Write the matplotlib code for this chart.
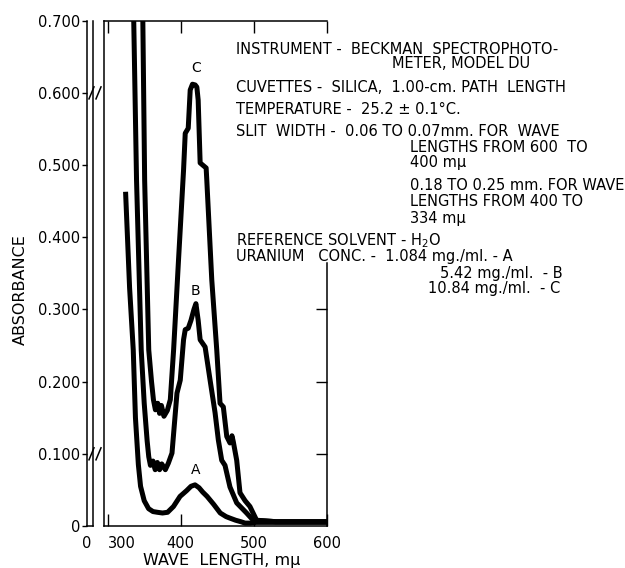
import matplotlib
matplotlib.use("Agg")
import matplotlib.pyplot as plt
from matplotlib.lines import Line2D

# wave length (m-mu) and absorbance
a_x = [324.5, 330, 335, 338, 342, 345, 350, 356, 362, 368, 375, 382, 390, 399, 408,
       414, 419.5, 425, 430, 436, 445, 454, 462, 467, 475, 482, 488, 495, 503, 530, 600]
a_y = [0.463, 0.330, 0.244, 0.150, 0.085, 0.055, 0.035, 0.024, 0.020, 0.019, 0.018, 0.019,
       0.027, 0.041, 0.049, 0.055, 0.057, 0.053, 0.047, 0.041, 0.030, 0.018, 0.013, 0.011,
       0.008, 0.006, 0.004, 0.004, 0.005, 0.005, 0.005]

b_x = [335.5, 339.5, 345.9, 350, 354, 356.2, 358.5, 362, 365, 368, 371, 374, 378.9, 383,
       388, 394.8, 399.3, 403.8, 406.1, 410.2, 414, 418, 420.7, 423.8, 426.5, 433.3, 440.1,
       446.9, 451.4, 456, 460.5, 467.3, 476.5, 490, 499, 530, 600]
b_y = [0.710, 0.479, 0.244, 0.170, 0.118, 0.096, 0.084, 0.090, 0.078, 0.088, 0.078, 0.086,
       0.078, 0.087, 0.101, 0.184, 0.202, 0.258, 0.272, 0.274, 0.285, 0.300, 0.308, 0.285,
       0.258, 0.248, 0.202, 0.157, 0.119, 0.091, 0.084, 0.054, 0.032, 0.018, 0.008, 0.006,
       0.006]

c_x = [348.0, 350.6, 356.2, 360, 362.6, 365.3, 368.5, 371, 373.5, 377, 381.6, 385.7, 390.2,
       397, 403.8, 406.1, 410.2, 412.9, 416, 419.7, 422, 423.8, 426.5, 430, 434.7, 435.6,
       442.4, 449.2, 453.7, 458.2, 462.9, 467.3, 470, 471.8, 476.5, 481, 488, 494.6, 503.7,
       530, 600]
c_y = [0.710, 0.479, 0.244, 0.200, 0.175, 0.161, 0.170, 0.156, 0.167, 0.152, 0.160, 0.175,
       0.244, 0.370, 0.493, 0.544, 0.551, 0.604, 0.612, 0.611, 0.608, 0.590, 0.503, 0.500,
       0.496, 0.479, 0.341, 0.244, 0.170, 0.165, 0.124, 0.115, 0.125, 0.117, 0.091, 0.046,
       0.035, 0.027, 0.008, 0.006, 0.006]

labels = ["A", "B", "C"]
label_x = [420, 420, 421]
label_y = [0.078, 0.325, 0.635]

y_ticks = [0, 0.1, 0.2, 0.3, 0.4, 0.5, 0.6, 0.7]
y_ticklabels = ["0", "0.100", "0.200", "0.300", "0.400", "0.500", "0.600", "0.700"]
right_ticks = [0.1, 0.2, 0.3]
x_ticks = [300, 400, 500, 600]

notes = [
    (236, 49, "INSTRUMENT -  BECKMAN  SPECTROPHOTO-"),
    (392, 64, "METER, MODEL DU"),
    (236, 87, "CUVETTES -  SILICA,  1.00-cm. PATH  LENGTH"),
    (236, 109, "TEMPERATURE -  25.2 \u00b1 0.1\u00b0C."),
    (236, 131, "SLIT  WIDTH -  0.06 TO 0.07mm. FOR  WAVE"),
    (410, 147, "LENGTHS FROM 600  TO"),
    (410, 163, "400 m\u03bc"),
    (410, 185, "0.18 TO 0.25 mm. FOR WAVE"),
    (410, 201, "LENGTHS FROM 400 TO"),
    (410, 218, "334 m\u03bc"),
    (236, 241, "REFERENCE SOLVENT - H$_2$O"),
    (236, 257, "URANIUM   CONC. -  1.084 mg./ml. - A"),
    (440, 273, "5.42 mg./ml.  - B"),
    (428, 289, "10.84 mg./ml.  - C"),
]

W, H = 625, 568
plt.rcParams['font.family'] = ['DejaVu Sans']
fig = plt.figure(figsize=(W / 100, H / 100), dpi=100)

def fx(x):
    return x / W

def fy(y):
    return 1 - y / H

top, bot = 20.7, 526
axL = fig.add_axes([fx(87), fy(bot), 6.5 / W, (bot - top) / H])
axM = fig.add_axes([fx(104), fy(bot), (327 - 104) / W, (bot - top) / H])

# narrow panel holding the zero of the wave length axis
axL.set_xlim(0, 1)
axL.set_ylim(0, 0.7)
axL.set_yticks(y_ticks)
axL.set_yticklabels(y_ticklabels)
axL.set_xticks([0])
axL.set_xticklabels(["0"])
axL.tick_params(axis='y', direction='out', length=3.5, width=1, pad=1.5, labelsize=10.5)
axL.tick_params(axis='x', length=0, pad=7, labelsize=10.5)
axL.spines['top'].set_visible(False)
for s in axL.spines.values():
    s.set_linewidth(1.1)

# main panel
lw = 3.6
for xs, ys in [(a_x, a_y), (b_x, b_y), (c_x, c_y)]:
    axM.plot(xs, ys, color='black', lw=lw, solid_joinstyle='round', solid_capstyle='butt')
for t, x, y in zip(labels, label_x, label_y):
    axM.text(x, y, t, ha='center', va='center', fontsize=10)

axM.set_xlim(295, 600)
axM.set_ylim(0, 0.7)
axM.set_xticks(x_ticks)
axM.set_xticklabels([str(v) for v in x_ticks])
axM.get_xticklabels()[0].set_ha('left')
axM.tick_params(axis='x', direction='in', length=8.5, width=1, top=True, pad=7, labelsize=10.5)
axM.set_yticks(right_ticks)
axM.tick_params(axis='y', direction='in', length=8, width=1, left=False, right=True,
                labelleft=False)
# right spine only below the notes
axM.spines['right'].set_bounds(0, 0.365)
for s in axM.spines.values():
    s.set_linewidth(1.1)

# axis break marks between the two panels
for yb in [0.1, 0.6]:
    yp = bot - (bot - top) * yb / 0.7
    for xb in [91.5, 98.5]:
        fig.add_artist(Line2D([fx(xb - 2.5), fx(xb + 2.5)], [fy(yp + 6), fy(yp - 6)],
                              color='black', lw=1.1))

fig.text(fx(20), fy(290), "ABSORBANCE", rotation=90, ha='center', va='center', fontsize=11.5)
fig.text(fx(222), fy(561), "WAVE  LENGTH, m\u03bc", ha='center', va='center', fontsize=11.5)

for x, y, t in notes:
    fig.text(fx(x), fy(y), t, ha='left', va='center', fontsize=10.5)

fig.savefig("out.png", dpi=100)
